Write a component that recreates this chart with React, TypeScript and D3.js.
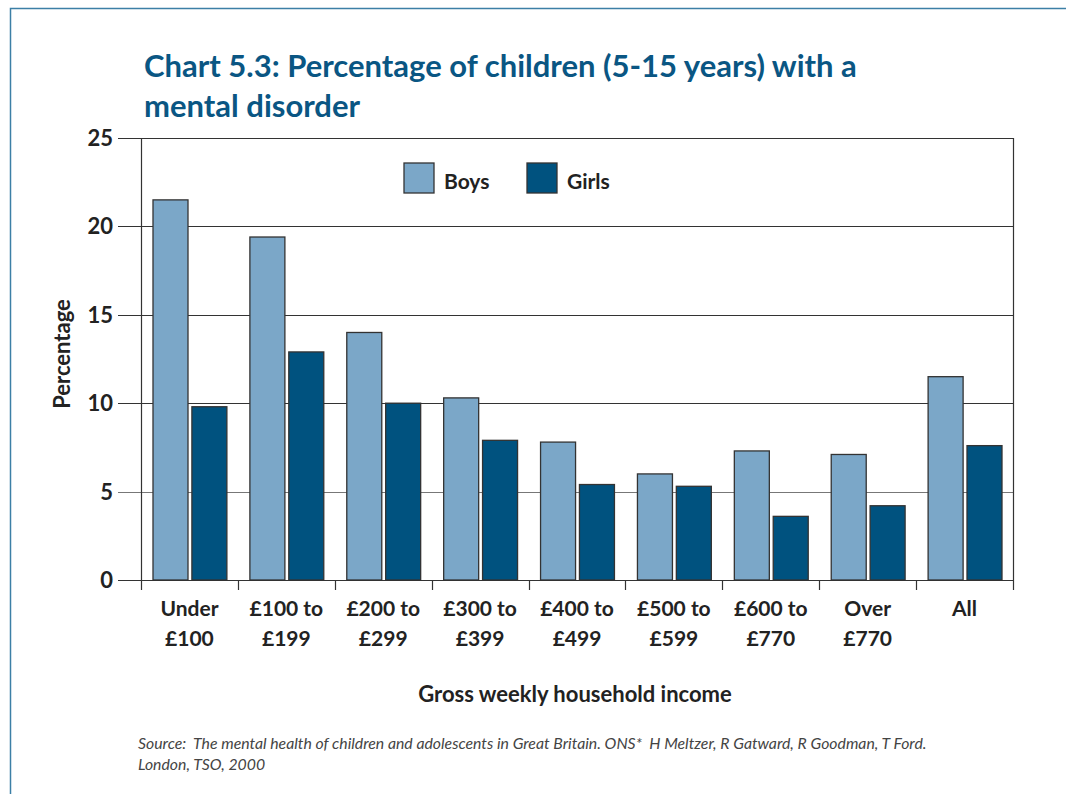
import { useEffect, useRef } from 'react';
import * as d3 from 'd3';

const categories = [
  ['Under', '£100'],
  ['£100 to', '£199'],
  ['£200 to', '£299'],
  ['£300 to', '£399'],
  ['£400 to', '£499'],
  ['£500 to', '£599'],
  ['£600 to', '£770'],
  ['Over', '£770'],
  ['All', ''],
];
const boys = [21.5, 19.4, 14.0, 10.3, 7.8, 6.0, 7.3, 7.1, 11.5];
const girls = [9.8, 12.9, 10.0, 7.9, 5.4, 5.3, 3.6, 4.2, 7.6];
const yTicks = [0, 5, 10, 15, 20, 25];
const seriesNames = ['Boys', 'Girls'];
const colors = ['#7ba7c8', '#00527f'];

const App = () => {
  const ref = useRef<SVGSVGElement>(null);
  const width = 1066;
  const height = 794;
  const marginLeft = 141;
  const marginRight = 1013;
  const marginTop = 138;
  const marginBottom = 580;
  const font = 'Lato, "Open Sans", sans-serif';

  useEffect(() => {
    const svg = d3.select(ref.current);
    svg.selectAll('*').remove();

    const x = d3.scaleBand<number>()
      .domain(d3.range(categories.length))
      .range([marginLeft, marginRight]);
    const xs = d3.scaleBand<number>()
      .domain([0, 1])
      .range([12, x.bandwidth() - 11])
      .paddingInner(0.1);
    const y = d3.scaleLinear().domain([0, 25]).range([marginBottom, marginTop]);

    // frame
    svg.append('path')
      .attr('d', `M10.5,${height} V8.5 H${width}`)
      .attr('fill', 'none')
      .attr('stroke', '#3c7fa6')
      .attr('stroke-width', 1.5);

    // title
    const title = svg.append('text')
      .attr('x', 144)
      .attr('font-family', font)
      .attr('font-weight', 'bold')
      .attr('font-size', 31)
      .attr('fill', '#0a5683');
    title.append('tspan').attr('x', 144).attr('y', 77)
      .text('Chart 5.3: Percentage of children (5-15 years) with a');
    title.append('tspan').attr('x', 144).attr('y', 117).text('mental disorder');

    // gridlines + y ticks
    const yAxis = svg.append('g');
    yAxis.selectAll('line')
      .data(yTicks)
      .join('line')
      .attr('x1', 118)
      .attr('x2', marginRight)
      .attr('y1', d => Math.round(y(d)) + 0.5)
      .attr('y2', d => Math.round(y(d)) + 0.5)
      .attr('stroke', d => (d === 5 ? '#777' : '#333'))
      .attr('stroke-width', 1.2);
    yAxis.selectAll('text')
      .data(yTicks)
      .join('text')
      .attr('x', 113)
      .attr('y', d => y(d) + 8)
      .attr('text-anchor', 'end')
      .attr('font-family', font)
      .attr('font-weight', 'bold')
      .attr('font-size', 22)
      .attr('fill', '#222')
      .text(d => d);

    // vertical frame lines of plot
    svg.append('line')
      .attr('x1', marginLeft + 0.5).attr('x2', marginLeft + 0.5)
      .attr('y1', marginTop).attr('y2', marginBottom + 10)
      .attr('stroke', '#333').attr('stroke-width', 1.2);
    svg.append('line')
      .attr('x1', marginRight + 0.5).attr('x2', marginRight + 0.5)
      .attr('y1', marginTop).attr('y2', marginBottom + 10)
      .attr('stroke', '#333').attr('stroke-width', 1.2);

    // x tick marks between categories
    svg.append('g').selectAll('line')
      .data(d3.range(1, categories.length))
      .join('line')
      .attr('x1', i => Math.round(x(i)!) + 0.5)
      .attr('x2', i => Math.round(x(i)!) + 0.5)
      .attr('y1', marginBottom)
      .attr('y2', marginBottom + 10)
      .attr('stroke', '#333')
      .attr('stroke-width', 1.2);

    // bars
    const groups = svg.append('g').selectAll('g')
      .data(categories.map((_, i) => [boys[i], girls[i]]))
      .join('g')
      .attr('transform', (_, i) => `translate(${x(i)},0)`);
    groups.selectAll('rect')
      .data(d => d)
      .join('rect')
      .attr('x', (_, j) => xs(j)!)
      .attr('y', d => y(d))
      .attr('width', xs.bandwidth())
      .attr('height', d => y(0) - y(d))
      .attr('fill', (_, j) => colors[j])
      .attr('stroke', '#333')
      .attr('stroke-width', 1.3);

    // x labels
    const xl = svg.append('g').selectAll('text')
      .data(categories)
      .join('text')
      .attr('text-anchor', 'middle')
      .attr('font-family', font)
      .attr('font-weight', 'bold')
      .attr('font-size', 21)
      .attr('fill', '#222');
    xl.each(function (d, i) {
      const t = d3.select(this);
      const cx = x(i)! + x.bandwidth() / 2;
      t.append('tspan').attr('x', cx).attr('y', 616).text(d[0]);
      if (d[1]) t.append('tspan').attr('x', cx).attr('y', 646).text(d[1]);
    });

    // axis titles
    svg.append('text')
      .attr('x', 575)
      .attr('y', 702)
      .attr('text-anchor', 'middle')
      .attr('font-family', font)
      .attr('font-weight', 'bold')
      .attr('font-size', 22)
      .attr('fill', '#222')
      .text('Gross weekly household income');
    svg.append('text')
      .attr('transform', 'translate(70,354) rotate(-90)')
      .attr('text-anchor', 'middle')
      .attr('font-family', font)
      .attr('font-weight', 'bold')
      .attr('font-size', 22)
      .attr('fill', '#222')
      .text('Percentage');

    // legend
    const legendX = [404, 527];
    const legend = svg.append('g').selectAll('g')
      .data(seriesNames)
      .join('g')
      .attr('transform', (_, i) => `translate(${legendX[i]},163)`);
    legend.append('rect')
      .attr('width', 30)
      .attr('height', 30)
      .attr('fill', (_, i) => colors[i])
      .attr('stroke', '#333')
      .attr('stroke-width', 1.3);
    legend.append('text')
      .attr('x', 40)
      .attr('y', 26)
      .attr('font-family', font)
      .attr('font-weight', 'bold')
      .attr('font-size', 21)
      .attr('fill', '#222')
      .text(d => d);

    // source
    const src = svg.append('text')
      .attr('font-family', font)
      .attr('font-style', 'italic')
      .attr('font-size', 15.8)
      .attr('fill', '#444')
      .style('white-space', 'pre');
    src.append('tspan').attr('x', 138).attr('y', 749)
      .text('Source:  The mental health of children and adolescents in Great Britain. ONS*  H Meltzer, R Gatward, R Goodman, T Ford.');
    src.append('tspan').attr('x', 138).attr('y', 770).text('London, TSO, 2000');
  }, []);

  return (
    <svg
      ref={ref}
      width={width}
      height={height}
      viewBox={`0 0 ${width} ${height}`}
      style={{ position: 'absolute', left: 0, top: 0, background: '#fff' }}
    />
  );
};

export default App;
